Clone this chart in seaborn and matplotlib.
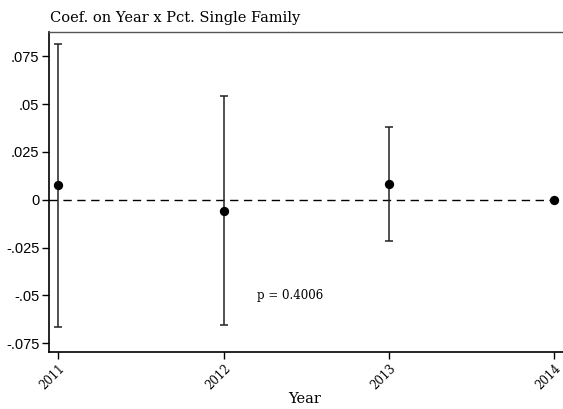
import matplotlib
matplotlib.use("Agg")
import matplotlib.pyplot as plt
import seaborn as sns
import pandas as pd
import numpy as np

years = [2011, 2012, 2013, 2014]
coef = [0.0075, -0.0057, 0.0081, 0.0]
upper = [0.0814, 0.0542, 0.0380, 0.0]
lower = [-0.0664, -0.0657, -0.0217, 0.0]
ytick_vals = [-0.075, -0.05, -0.025, 0, 0.025, 0.05, 0.075]
ytick_labels = ["-.075", "-.05", "-.025", "0", ".025", ".05", ".075"]
xtick_labels = ["2011", "2012", "2013", "2014"]
title = "Coef. on Year x Pct. Single Family"
xlabel = "Year"
ptext = "p = 0.4006"

df = pd.DataFrame({"year": years, "coef": coef, "upper": upper, "lower": lower})

sns.set_style("white")
plt.rcParams.update({"text.color": "black", "xtick.color": "black",
                     "ytick.color": "black", "axes.labelcolor": "black"})
serif = ["DejaVu Serif"]
sans = ["Liberation Sans", "DejaVu Sans"]

fig = plt.figure(figsize=(5.63, 4.09), dpi=100)
ax = fig.add_axes([49 / 563, (409 - 352.3) / 409, (563 - 49) / 563, (352.3 - 32.3) / 409])

ax.axhline(0, color="black", lw=1, ls=(0, (6, 4)), zorder=1)
ax.errorbar(df["year"], df["coef"],
            yerr=[df["coef"] - df["lower"], df["upper"] - df["coef"]],
            fmt="none", ecolor="#222222", elinewidth=1.1, capsize=3, capthick=1.1, zorder=2)
sns.scatterplot(data=df, x="year", y="coef", ax=ax, color="black", s=45,
                edgecolor="black", linewidth=0, zorder=3, legend=False)

ax.set_xlim(2010.943, 2014.055)
ax.set_ylim(-0.0798, 0.0876)
ax.set_yticks(ytick_vals)
ax.set_yticklabels(ytick_labels, fontfamily=sans, fontsize=10.5)
ax.set_xticks(years)
ax.set_xticklabels(xtick_labels, rotation=45, ha="right", rotation_mode="anchor",
                   fontfamily=serif, fontsize=8.5)
ax.tick_params(axis="both", direction="out", length=5, width=1, color="black",
               bottom=True, left=True, pad=2)
ax.set_xlabel("")
ax.set_ylabel("")
for s in ["left", "bottom"]:
    ax.spines[s].set_color("black")
    ax.spines[s].set_linewidth(1.2)
ax.spines["top"].set_color("#555555")
ax.spines["top"].set_linewidth(1.0)
ax.spines["right"].set_visible(False)

ax.text(2012.2, -0.05, ptext, ha="left", va="center", fontfamily=serif, fontsize=8.5)
fig.text(50 / 563, 1 - 18 / 409, title, ha="left", va="center", fontfamily=serif, fontsize=10.5)
fig.text(305 / 563, 1 - 399 / 409, xlabel, ha="center", va="center", fontfamily=serif, fontsize=10.5)

fig.savefig("out.png", dpi=100)
